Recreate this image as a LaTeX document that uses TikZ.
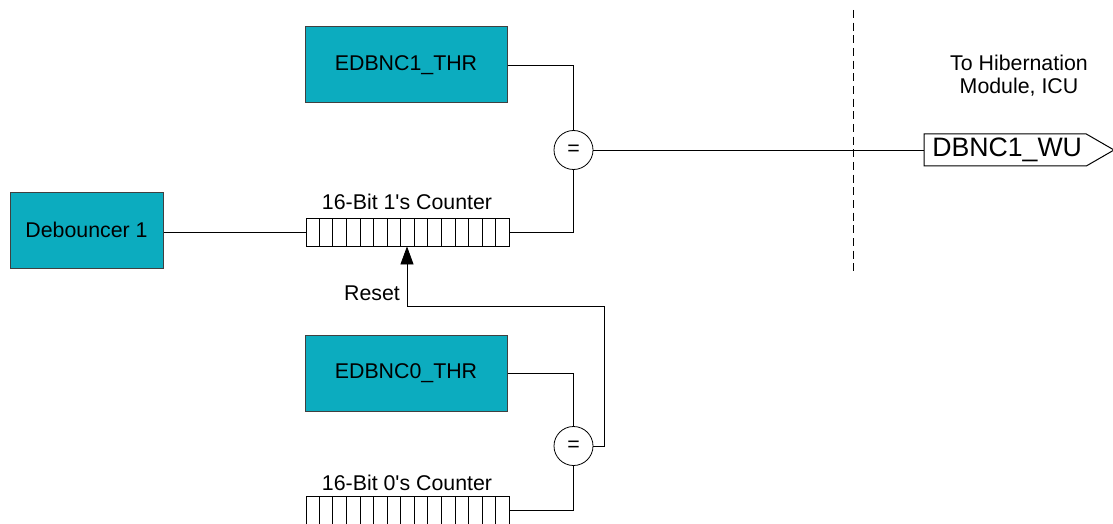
\documentclass[tikz,border=0pt]{standalone}
\usepackage{fontspec}
\setmainfont{Liberation Sans}
\usetikzlibrary{calc,arrows.meta,shapes.symbols}
\definecolor{tealbox}{HTML}{0CACBF}
\definecolor{boxedge}{HTML}{404040}
\tikzset{
  txt/.style={font=\fontsize{16}{17.25}\selectfont, inner sep=0pt},
  regbox/.style={txt, draw=boxedge, fill=tealbox, line width=0.75pt, minimum height=57pt},
  cntbox/.style={draw=black, line width=0.6pt, minimum width=152.25pt, minimum height=21pt, inner sep=0pt},
  cmp/.style={txt, circle, draw=black, line width=0.6pt, minimum size=29.25pt},
  wire/.style={line width=0.6pt, draw=black},
  tag/.style={font=\fontsize{20}{24}\selectfont, signal, signal to=east, signal pointer angle=60,
    draw=black, line width=0.75pt, minimum width=142.5pt, minimum height=24pt, inner sep=0pt}
}
\begin{document}
\begin{tikzpicture}[x=0.75pt,y=-0.75pt]
\useasboundingbox (0,0) rectangle (1113,524);
% boxes
\node[regbox, minimum width=114.75pt] (deb) at (86.5,230) {Debouncer 1};
\node[regbox, minimum width=151.5pt] (e1) at (406,65) {EDBNC1\_THR};
\node[regbox, minimum width=151.5pt] (e0) at (406,373) {EDBNC0\_THR};
% counters
\node[cntbox] (c1) at (407.5,232) {};
\node[cntbox] (c0) at (407.5,510) {};
\foreach \c in {c1,c0}{
  \foreach \k in {1,...,14}{
    \draw[line width=0.6pt] ($(\c.south west)!\k/15!(\c.south east)$) -- ($(\c.north west)!\k/15!(\c.north east)$);
  }
}
\node[txt] (l1) at (407,202) {16-Bit 1\textquotesingle s Counter};
\node[txt] (l0) at (407,483) {16-Bit 0\textquotesingle s Counter};
% comparators
\node[cmp] (k1) at (573.5,150) {=};
\node[cmp] (k0) at (573.5,446) {=};
% tag
\node[tag, anchor=west] (wu) at (923.5,150) {\hspace{3pt}DBNC1\_WU};
% labels
\node[txt, align=center] (hib) at (1019,75.5) {To Hibernation\\Module, ICU};
\node[txt] (rst) at (372,293) {Reset};
% dashed separator
\coordinate (dtop) at (853,10);
\coordinate (dbot) at (853,273);
\draw[wire, dash pattern=on 6pt off 3.5pt] (dtop) -- (dbot);
% connectors
\draw[wire] (deb.east |- c1.west) -- (c1.west);
\draw[wire] (e1.east) -| (k1.north);
\draw[wire] (c1.east) -| (k1.south);
\draw[wire] (k1.east) -- (wu.west);
\draw[wire] (e0.east) -| (k0.north);
\draw[wire] (c0.east) -| (k0.south);
\coordinate (rt) at (604,306);
\coordinate (rl) at (407,306);
\draw[wire, -{Triangle[length=13.5pt,width=9.75pt]}] (k0.east) -| (rt) -- (rl) -- (rl |- c1.south);
\end{tikzpicture}
\end{document}
